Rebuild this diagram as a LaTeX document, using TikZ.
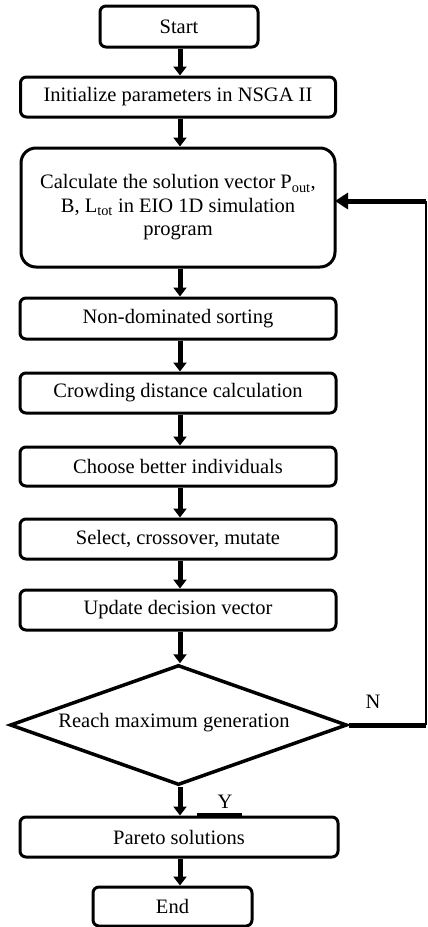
\documentclass[tikz,border=0pt]{standalone}
\usepackage{fontspec}
\setmainfont{Liberation Serif}
\usetikzlibrary{arrows.meta,shapes.geometric}
\begin{document}
\begin{tikzpicture}[x=1pt,y=-1pt,
  box/.style={draw,line width=3pt,rounded corners=6pt,minimum width=316pt,minimum height=40pt,inner sep=0pt,font=\fontsize{20.5}{23.5}\selectfont,anchor=center},
  flow/.style={line width=5pt,-{Triangle[length=9pt,width=13pt]}},
  lbl/.style={font=\fontsize{20.5}{23.5}\selectfont,inner sep=0pt}]
\useasboundingbox (0,0) rectangle (428,927);
\node[box,minimum width=158pt,minimum height=41pt] (start) at (179,26.5) {Start};
\node[box,minimum width=315pt] (init) at (178,97) {Initialize parameters in NSGA II};
\node[box,minimum width=314pt,minimum height=119pt,rounded corners=15pt,align=center] (calc) at (178,207.5)
  {Calculate the solution vector P\textsubscript{out},\\B, L\textsubscript{tot} in EIO 1D simulation\\program};
\node[box,minimum height=41pt] (non) at (178,318.5) {Non-dominated sorting};
\node[box] (crowd) at (178,393) {Crowding distance calculation};
\node[box,minimum height=39pt] (choose) at (178,466.5) {Choose better individuals};
\node[box] (select) at (178,539) {Select, crossover, mutate};
\node[box] (update) at (178,610) {Update decision vector};
\node[draw,line width=3.5pt,diamond,aspect=2.8,minimum width=337pt,minimum height=120pt,inner sep=0pt] (dec) at (178.5,725) {};
\node[lbl] (dectext) at (174,723) {Reach maximum generation};
\node[box,minimum width=318pt] (pareto) at (179,837) {Pareto solutions};
\node[box,minimum width=159pt,minimum height=39pt] (end) at (172.5,906.5) {End};
\node[lbl] (nlab) at (373,702) {N};
\node[lbl] (ylab) at (225,802) {Y};
\coordinate (c1) at (426,725);
\coordinate (c2) at (426,201);
\coordinate (c3) at (335,201);
\coordinate (u1) at (197,815);
\coordinate (u2) at (242,815);
\draw[flow] (start.south -| 180,0) -- (init.north -| 180,0);
\draw[flow] (init.south -| 180,0) -- (calc.north -| 180,0);
\draw[flow] (calc.south -| 180,0) -- (non.north -| 180,0);
\draw[flow] (non.south -| 180,0) -- (crowd.north -| 180,0);
\draw[flow] (crowd.south -| 180,0) -- (choose.north -| 180,0);
\draw[flow] (choose.south -| 180,0) -- (select.north -| 180,0);
\draw[flow] (select.south -| 180,0) -- (update.north -| 180,0);
\draw[flow] (update.south -| 180,0) -- (dec.north -| 180,0);
\draw[flow] (dec.south -| 180,0) -- (pareto.north -| 180,0);
\draw[flow] (pareto.south -| 180,0) -- (end.north -| 180,0);
\draw[line width=5pt] (dec.east) -- (c1);
\draw[line width=1.8pt] (c1) -- (c2);
\draw[line width=5pt,-{Triangle[length=13pt,width=16pt]}] (c2) -- (c3);
\draw[line width=3.5pt] (u1) -- (u2);
\end{tikzpicture}
\end{document}
